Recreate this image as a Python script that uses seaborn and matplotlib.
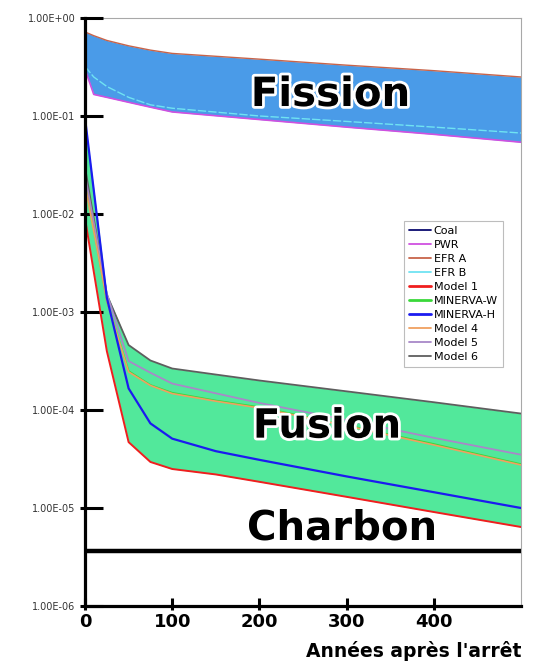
import numpy as np
import pandas as pd
import seaborn as sns
import matplotlib
matplotlib.use("Agg")
import matplotlib.pyplot as plt
from matplotlib.lines import Line2D
from matplotlib import patheffects as pe
from matplotlib.ticker import FixedLocator, FuncFormatter, NullFormatter

# ---- data: normalised activity vs. years after shutdown ----
fission_years = [0, 10, 25, 50, 75, 100, 200, 300, 400, 500]
efr_a = [0.72, 0.66, 0.59, 0.52, 0.47, 0.435, 0.38, 0.33, 0.29, 0.25]
efr_b = [0.32, 0.25, 0.20, 0.155, 0.13, 0.12, 0.10, 0.088, 0.077, 0.067]
pwr = [0.30, 0.166, 0.155, 0.138, 0.123, 0.11, 0.092, 0.077, 0.065, 0.054]

fusion_years = [0, 25, 50, 75, 100, 150, 200, 300, 400, 500]
model_1 = [9.0e-3, 4.0e-4, 4.7e-5, 2.95e-5, 2.5e-5, 2.2e-5, 1.85e-5, 1.3e-5, 9.1e-6, 6.4e-6]
minerva_h = [9.5e-2, 1.4e-3, 1.66e-4, 7.3e-5, 5.1e-5, 3.8e-5, 3.1e-5, 2.1e-5, 1.45e-5, 1.0e-5]
model_4 = [2.0e-2, 1.3e-3, 2.45e-4, 1.78e-4, 1.47e-4, 1.23e-4, 1.05e-4, 6.9e-5, 4.4e-5, 2.75e-5]
minerva_w = [2.2e-2, 1.3e-3, 2.5e-4, 1.8e-4, 1.5e-4, 1.25e-4, 1.07e-4, 7.0e-5, 4.5e-5, 2.8e-5]
model_5 = [2.5e-2, 1.55e-3, 3.16e-4, 2.4e-4, 1.86e-4, 1.48e-4, 1.18e-4, 7.9e-5, 5.2e-5, 3.5e-5]
model_6 = [3.0e-2, 1.5e-3, 4.6e-4, 3.2e-4, 2.65e-4, 2.3e-4, 2.0e-4, 1.55e-4, 1.2e-4, 9.2e-5]

coal_years = [0, 500]
coal = [3.6e-6, 3.6e-6]

y_ticks = [1e0, 1e-1, 1e-2, 1e-3, 1e-4, 1e-5, 1e-6]
x_ticks = [0, 100, 200, 300, 400]

legend_names = ["Coal", "PWR", "EFR A", "EFR B", "Model 1", "MINERVA-W",
                "MINERVA-H", "Model 4", "Model 5", "Model 6"]
colors = {
    "Coal": "#0a0a6e", "PWR": "#d050e0", "EFR A": "#c8644a", "EFR B": "#6fe3f2",
    "Model 1": "#f01e1e", "MINERVA-W": "#3ad83a", "MINERVA-H": "#1b1bf0",
    "Model 4": "#f0a060", "Model 5": "#a888c8", "Model 6": "#5e5e5e",
}

sns.set_theme(style="white")
plt.rcParams["font.family"] = ["DejaVu Sans"]
plt.rcParams["text.color"] = "black"

fig = plt.figure(figsize=(5.33, 6.61), dpi=100)
ax = fig.add_axes([0.1595, 0.0832, 0.818, 0.8896])

# ---- fission band ----
ax.fill_between(fission_years, pwr, efr_a, color="#4a9be8", lw=0, zorder=1)

# ---- fusion band ----
fus = np.array([model_1, minerva_h, model_4, minerva_w, model_5, model_6])
ax.fill_between(fusion_years, fus.min(axis=0), fus.max(axis=0),
                color="#52e89b", lw=0, zorder=1)

def draw(xs, ys, name, lw=1.2, **kw):
    df = pd.DataFrame({"t": xs, "v": ys})
    sns.lineplot(data=df, x="t", y="v", ax=ax, color=colors[name], lw=lw,
                 estimator=None, legend=False, zorder=3, **kw)

draw(fission_years, efr_a, "EFR A", lw=1.0)
draw(fission_years, pwr, "PWR", lw=1.2)
draw(fission_years, efr_b, "EFR B", lw=1.0, dashes=(6, 1.5))

draw(fusion_years, minerva_w, "MINERVA-W", lw=1.2)
draw(fusion_years, model_6, "Model 6", lw=1.3)
draw(fusion_years, model_5, "Model 5", lw=1.3)
draw(fusion_years, model_4, "Model 4", lw=1.2)
draw(fusion_years, minerva_h, "MINERVA-H", lw=1.6)
draw(fusion_years, model_1, "Model 1", lw=1.4)

# coal reference level
sns.lineplot(x=coal_years, y=coal, ax=ax, color="black", lw=3.2,
             legend=False, zorder=4)

ax.set_yscale("log")
ax.set_xlim(0, 500)
ax.set_ylim(1e-6, 1e0)
ax.set_ylabel("")

# ---- axes styling ----
for side in ("left", "bottom"):
    ax.spines[side].set_linewidth(2.3)
    ax.spines[side].set_color("black")
    ax.spines[side].set_zorder(5)
for side in ("top", "right"):
    ax.spines[side].set_linewidth(0.8)
    ax.spines[side].set_color("#a8a8a8")

ax.yaxis.set_major_locator(FixedLocator(y_ticks))
ax.yaxis.set_minor_locator(FixedLocator(y_ticks))
ax.yaxis.remove_overlapping_locs = False
ax.yaxis.set_major_formatter(FuncFormatter(lambda v, p: f"{v:.2E}"))
ax.yaxis.set_minor_formatter(NullFormatter())
ax.xaxis.set_major_locator(FixedLocator(x_ticks))
ax.xaxis.set_minor_locator(FixedLocator(x_ticks))
ax.xaxis.remove_overlapping_locs = False
ax.xaxis.set_minor_formatter(NullFormatter())

ax.tick_params(axis="y", which="major", direction="in", length=13, width=2.2,
               color="black", pad=7.0, labelsize=7, labelcolor="#333333",
               left=True)
ax.tick_params(axis="y", which="minor", direction="out", length=3.5, width=2.2,
               color="black", left=True)
ax.tick_params(axis="x", which="major", direction="in", length=5.5, width=2.2,
               color="black", pad=5, labelsize=13, labelcolor="black",
               bottom=True)
ax.tick_params(axis="x", which="minor", direction="out", length=3, width=2.2,
               color="black", bottom=True)
ax.set_axisbelow(False)
for lab in ax.get_xticklabels():
    lab.set_fontweight("bold")

ax.set_xlabel("Années après l'arrêt", loc="right", fontsize=13.5,
              fontweight="bold", labelpad=7, color="black")

# ---- region labels ----
halo = [pe.withStroke(linewidth=4, foreground="white")]
ax.text(0.563, 0.869, "Fission", transform=ax.transAxes, ha="center",
        va="center", fontsize=29, fontweight="bold", path_effects=halo,
        color="black", zorder=6)
ax.text(0.555, 0.305, "Fusion", transform=ax.transAxes, ha="center",
        va="center", fontsize=29, fontweight="bold", path_effects=halo,
        color="black", zorder=6)
ax.text(0.59, 0.131, "Charbon", transform=ax.transAxes, ha="center",
        va="center", fontsize=29, fontweight="bold", color="black", zorder=6)

# ---- legend ----
handles = [Line2D([], [], color=colors[n],
                  lw=2.0 if n in ("Model 1", "MINERVA-W", "MINERVA-H") else 1.3)
           for n in legend_names]
leg = ax.legend(handles, legend_names, loc="upper left",
                bbox_to_anchor=(0.732, 0.655), fontsize=8, frameon=True,
                fancybox=False, framealpha=1, edgecolor="#bdbdbd",
                handlelength=2.0, handletextpad=0.2, labelspacing=0.36,
                borderpad=0.45, borderaxespad=0)
leg.get_frame().set_linewidth(0.8)
leg.set_zorder(7)
for t in leg.get_texts():
    t.set_color("black")

fig.savefig("out.png", dpi=100)
